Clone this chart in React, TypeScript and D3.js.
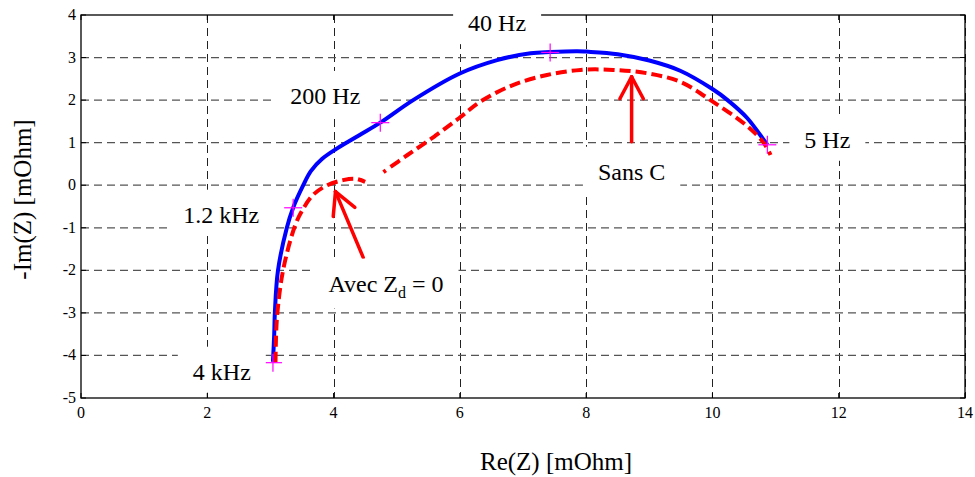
import React, { useEffect, useRef } from 'react';
import * as d3 from 'd3';

// Axis ticks
const xTicks = [0, 2, 4, 6, 8, 10, 12, 14];
const yTicks = [-5, -4, -3, -2, -1, 0, 1, 2, 3, 4];

// Blue solid curve (with C)
const blueRe = [3.04, 3.06, 3.07, 3.12, 3.26, 3.36, 3.52, 3.64, 3.82, 4.05, 4.4, 4.74, 5.26, 5.99, 6.59, 7.12, 7.43, 7.86, 8.0, 8.5, 9.0, 9.49, 10.0, 10.24, 10.55, 10.81, 10.87];
const blueIm = [-4.15, -3.5, -3.0, -2.0, -1.0, -0.53, 0.0, 0.33, 0.62, 0.86, 1.17, 1.47, 2.0, 2.62, 2.94, 3.1, 3.13, 3.15, 3.14, 3.08, 2.93, 2.69, 2.26, 2.0, 1.58, 1.07, 0.95];

// Red dashed curve, high-frequency part (Avec Zd = 0)
const redARe = [3.08, 3.09, 3.11, 3.2, 3.39, 3.52, 3.68, 3.9, 4.15, 4.35, 4.5];
const redAIm = [-4.17, -3.5, -3.0, -2.0, -0.95, -0.55, -0.22, 0.0, 0.12, 0.15, 0.08];

// Red dashed curve, low-frequency part (Sans C)
const redBRe = [4.79, 5.17, 5.6, 5.99, 6.32, 6.85, 7.38, 7.91, 8.43, 8.97, 9.49, 10.0, 10.55, 10.81, 10.92];
const redBIm = [0.31, 0.71, 1.15, 1.58, 1.96, 2.36, 2.59, 2.71, 2.71, 2.63, 2.43, 1.97, 1.39, 1.0, 0.71];

// Frequency markers on blue curve
const markerRe = [3.04, 3.36, 4.74, 7.43, 10.87];
const markerIm = [-4.17, -0.53, 1.47, 3.12, 0.95];

// Frequency labels
const freqLabels = ['4 kHz', '1.2 kHz', '200 Hz', '40 Hz', '5 Hz'];
const freqLabelRe = [2.23, 2.22, 3.87, 6.59, 11.82];
const freqLabelIm = [-4.57, -0.88, 1.91, 3.62, 0.88];

const W = 975;
const H = 477;

export default function App() {
  const ref = useRef<SVGSVGElement | null>(null);

  useEffect(() => {
    const svg = d3.select(ref.current);
    svg.selectAll('*').remove();

    const x = d3.scaleLinear().domain([0, 14]).range([81, 965]);
    const y = d3.scaleLinear().domain([-5, 4]).range([398, 15]);
    const [x0, x1] = x.range();
    const [y0, y1] = y.range();

    svg.append('rect').attr('width', W).attr('height', H).attr('fill', '#fff');

    // Grid
    const g = svg.append('g');
    g.selectAll('line.v')
      .data(xTicks.filter((t) => t > 0))
      .join('line')
      .attr('x1', (d) => Math.round(x(d)) + 0.5)
      .attr('x2', (d) => Math.round(x(d)) + 0.5)
      .attr('y1', y1)
      .attr('y2', y0)
      .attr('stroke', '#222')
      .attr('stroke-width', 1)
      .attr('stroke-dasharray', '8,5');
    g.selectAll('line.h')
      .data(yTicks.filter((t) => t > -5 && t < 4))
      .join('line')
      .attr('x1', x0)
      .attr('x2', x1)
      .attr('y1', (d) => y(d))
      .attr('y2', (d) => y(d))
      .attr('stroke', '#555')
      .attr('stroke-width', 1.2)
      .attr('stroke-dasharray', '8,5');

    // Box
    svg.append('rect')
      .attr('x', x0).attr('y', y1)
      .attr('width', x1 - x0).attr('height', y0 - y1)
      .attr('fill', 'none').attr('stroke', '#000').attr('stroke-width', 1.3);

    // Ticks inside
    const tk = svg.append('g').attr('stroke', '#000').attr('stroke-width', 1);
    xTicks.forEach((t) => {
      tk.append('line').attr('x1', x(t)).attr('x2', x(t)).attr('y1', y0).attr('y2', y0 - 5);
      tk.append('line').attr('x1', x(t)).attr('x2', x(t)).attr('y1', y1).attr('y2', y1 + 5);
    });
    yTicks.forEach((t) => {
      tk.append('line').attr('x1', x0).attr('x2', x0 + 5).attr('y1', y(t)).attr('y2', y(t));
      tk.append('line').attr('x1', x1).attr('x2', x1 - 5).attr('y1', y(t)).attr('y2', y(t));
    });

    // Tick labels
    const font = '"Liberation Serif", "Times New Roman", serif';
    svg.append('g').selectAll('text')
      .data(xTicks).join('text')
      .attr('x', (d) => x(d)).attr('y', y0 + 20)
      .attr('text-anchor', 'middle')
      .attr('font-family', font).attr('font-size', 16).attr('fill', '#000')
      .text((d) => String(d));
    svg.append('g').selectAll('text')
      .data(yTicks).join('text')
      .attr('x', x0 - 5).attr('y', (d) => y(d) + 5)
      .attr('text-anchor', 'end')
      .attr('font-family', font).attr('font-size', 16).attr('fill', '#000')
      .text((d) => String(d));

    // Axis titles
    svg.append('text')
      .attr('x', (x0 + x1) / 2 + 33).attr('y', 470)
      .attr('text-anchor', 'middle')
      .attr('font-family', font).attr('font-size', 25)
      .text('Re(Z) [mOhm]');
    svg.append('text')
      .attr('transform', `translate(31,${(y0 + y1) / 2 - 7}) rotate(-90)`)
      .attr('text-anchor', 'middle')
      .attr('font-family', font).attr('font-size', 25)
      .text('-Im(Z) [mOhm]');

    // Curves
    const line = d3.line<[number, number]>()
      .x((d) => x(d[0])).y((d) => y(d[1]))
      .curve(d3.curveCatmullRom.alpha(0.5));
    const zip = (a: number[], b: number[]) => a.map((v, i) => [v, b[i]] as [number, number]);

    svg.append('path').attr('d', line(zip(blueRe, blueIm)))
      .attr('fill', 'none').attr('stroke', '#0000ff').attr('stroke-width', 4)
      .attr('stroke-linejoin', 'round');
    svg.append('path').attr('d', line(zip(redARe, redAIm)))
      .attr('fill', 'none').attr('stroke', '#ff0000').attr('stroke-width', 4)
      .attr('stroke-dasharray', '11,5');
    const dashB = ['3', '6'].concat(d3.range(60).map(() => '11,5')).join(',');
    svg.append('path').attr('d', line(zip(redBRe, redBIm)))
      .attr('fill', 'none').attr('stroke', '#ff0000').attr('stroke-width', 4)
      .attr('stroke-dasharray', dashB);

    // Markers
    const mk = svg.append('g').attr('stroke', '#ff00ff').attr('stroke-width', 1.2);
    markerRe.forEach((re, i) => {
      const px = x(re), py = y(markerIm[i]);
      mk.append('line').attr('x1', px - 9).attr('x2', px + 9).attr('y1', py).attr('y2', py);
      mk.append('line').attr('x1', px).attr('x2', px).attr('y1', py - 9).attr('y2', py + 9);
    });

    // Arrows
    const arrow = (fx: number, fy: number, tx: number, ty: number) => {
      const ax = x(fx), ay = y(fy), bx = x(tx), by = y(ty);
      const ang = Math.atan2(ay - by, ax - bx);
      const len = 25, spread = (28 * Math.PI) / 180;
      const gA = svg.append('g').attr('stroke', '#ff0000').attr('stroke-width', 3.5).attr('fill', 'none').attr('stroke-linecap', 'round');
      gA.append('line').attr('x1', ax).attr('y1', ay).attr('x2', bx).attr('y2', by);
      [-1, 1].forEach((s) => {
        gA.append('line').attr('x1', bx).attr('y1', by)
          .attr('x2', bx + len * Math.cos(ang + s * spread))
          .attr('y2', by + len * Math.sin(ang + s * spread));
      });
    };
    arrow(8.72, 1.02, 8.72, 2.55);
    arrow(4.47, -1.7, 4.03, -0.15);

    // Labels with white background
    const addLabel = (px: number, py: number, build: (t: any) => void) => {
      const grp = svg.append('g');
      const bg = grp.append('rect').attr('fill', '#fff');
      const t = grp.append('text')
        .attr('x', px).attr('y', py)
        .attr('text-anchor', 'middle')
        .attr('font-family', font).attr('font-size', 24).attr('fill', '#000');
      build(t);
      const bb = (t.node() as SVGTextElement).getBBox();
      bg.attr('x', bb.x - 15).attr('y', bb.y - 12)
        .attr('width', bb.width + 30).attr('height', bb.height + 20);
    };

    freqLabels.forEach((lab, i) => {
      addLabel(x(freqLabelRe[i]), y(freqLabelIm[i]), (t) => t.text(lab));
    });
    addLabel(x(8.72), y(0.13), (t) => t.text('Sans C'));
    addLabel(x(4.83), y(-2.5), (t) => {
      t.append('tspan').text('Avec Z');
      t.append('tspan').attr('font-size', 16).attr('dy', 6).text('d');
      t.append('tspan').attr('dy', -6).text(' = 0');
    });
  }, []);

  return (
    <svg
      ref={ref}
      width={W}
      height={H}
      style={{ position: 'absolute', left: 0, top: 0, display: 'block' }}
    />
  );
}
